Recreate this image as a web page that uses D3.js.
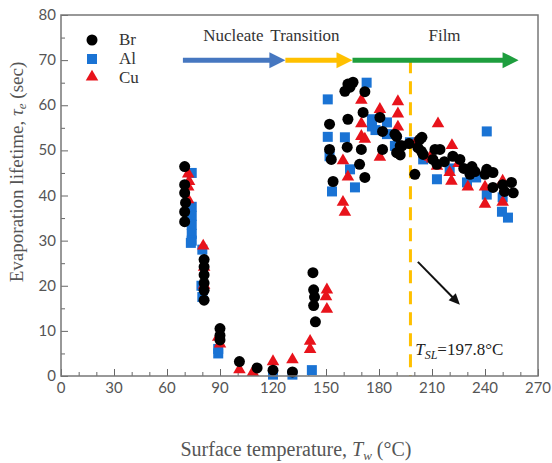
<!DOCTYPE html>
<html>
<head>
<meta charset="utf-8">
<script src="https://cdn.jsdelivr.net/npm/d3@7"></script>
<style>
  body { margin: 0; background: #fff; }
  svg text { font-family: "Liberation Serif", "Times New Roman", serif; }
  svg text.tick { font-family: Lato, "Open Sans", sans-serif; }
</style>
</head>
<body>
<svg id="Chart" width="552" height="463"></svg>
<script>
// [surface temperature (C), evaporation lifetime (s)]
var brass = [
  [70,46.4],[70,42.4],[70,40.6],[70.5,38.4],[70,36.4],[70,34.2],
  [81,25.8],[81,24.2],[81,22.4],[81,20.6],[81,19],[81,16.8],
  [90,10.5],[90,9],[90,8],[101,3.2],[111,1.8],[120,1.3],[131,0.9],
  [142.6,22.9],[143,19.1],[143.5,17.5],[143,15.6],[144,12],
  [160.7,63.1],[163.6,64],[165.3,65.1],[162.4,64.7],[172,63],[162.4,56.9],[171,58.4],
  [180.5,57.3],[182,54.2],[189,53.6],[192,51],[192,49],[182,50.2],[170,50.2],[162,50.7],
  [152,55.8],[152,50.2],[153,48],[169,46.9],[172,44],[154,43.1],
  [190,53.1],[190,49.5],[193,51],[204.3,52.9],[202,50.6],[205,49.1],[200.3,44.7],
  [211.7,50.2],[214.5,50.2],[212.8,46.9],[210.5,48],[221.8,48.7],[225.8,48],[232.6,46.4],
  [234.3,45.3],[241,45.8],[244.5,45.1],[240,44.7],[231.5,44.7],[244.5,41.8],[250,42.4],
  [255,42.9],[256,40.6],[251,40.9],[203,52.4],[204,49.8],[197,51.5],[217,47.5],[228,46]
];
var aluminum = [
  [74,45],[74,37.5],[74,35.5],[74,33.5],[74,31.5],[74,30],[73.5,29.5],
  [80,28],[80,17.5],[79.5,20],[89,6],[89,5],[120,0.3],[131,0.3],[142,1.3],
  [151,61.3],[173,65],[151,53],[160.7,52.9],[152,48.7],[163.6,45.8],[166.4,41.8],[153.4,40.9],
  [176,55.3],[184.5,53.6],[190,51],[176,56.9],[184.5,56.2],[189,51],[178,54.5],
  [241,54.2],[212.8,43.6],[241,40.2],[250,39.6],[249.6,36.4],[253,35.1],[229.8,42.9],
  [190,50.2],[197.5,51.8],[205,48],[220,46],[235,44]
];
var copper = [
  [72,44.7],[72,41.8],[72,39],[72.5,43],
  [80.5,28.7],[81,24],[81,20],[89,8.5],[90,7],
  [101,1.3],[108.6,0.7],[120,3.1],[131,3.5],
  [141,7.6],[141,5.8],[150.5,19],[150,17.5],[150.5,14.7],
  [170,61],[190.7,60.7],[180.5,59],[190.7,58],[170,55.8],[170,53],[159.6,47.6],[162.4,44],
  [159.6,38.4],[160.7,36.2],[180.5,48.4],[172,52.4],[190.7,55.1],
  [213.4,55.8],[200.3,51.3],[221.3,51],[210,48],[220,45],[221,43.1],[230.3,41.8],[240,41.8],
  [250,43.1],[240,38],[250,38.4],[209,48.4],[212.8,46.4],[225,47]
];
var xTicks = [0,30,60,90,120,150,180,210,240,270];
var yTicks = [0,10,20,30,40,50,60,70,80];
// regime arrows along the top: [from, to] in C
var regimes = [
  {name: "Nucleate", from: 69, to: 127, color: "#4677C0"},
  {name: "Transition", from: 127, to: 165, color: "#FFC000"},
  {name: "Film", from: 165, to: 259, color: "#1E9E3E"}
];
var tSL = 197.8;

var svg = d3.select("#Chart");
var margin = {left: 61, right: 14, top: 15, bottom: 87};
var width = 552 - margin.left - margin.right,
    height = 463 - margin.top - margin.bottom;

var x = d3.scaleLinear().domain([0, 270]).range([margin.left, margin.left + width]);
var y = d3.scaleLinear().domain([0, 80]).range([margin.top + height, margin.top]);

// ticks (inward) and labels
var axisG = svg.append("g");
axisG.append("g")
  .attr("transform", "translate(0," + y(0) + ")")
  .call(d3.axisBottom(x).tickValues(d3.range(0, 271, 10)).tickSize(-4).tickFormat(""))
  .call(g => g.select(".domain").remove())
  .call(g => g.selectAll("line").attr("stroke", "#666")
    .attr("y2", d => d % 30 == 0 ? -7 : -4));
axisG.append("g")
  .attr("transform", "translate(" + x(0) + ",0)")
  .call(d3.axisLeft(y).tickValues(d3.range(0, 81, 5)).tickSize(-4).tickFormat(""))
  .call(g => g.select(".domain").remove())
  .call(g => g.selectAll("line").attr("stroke", "#666")
    .attr("x2", d => d % 10 == 0 ? 7 : 4));

svg.append("g").selectAll("text")
  .data(xTicks).enter().append("text").attr("class", "tick")
  .attr("x", d => x(d)).attr("y", y(0) + 17)
  .attr("text-anchor", "middle").attr("font-size", 15).attr("fill", "#555")
  .text(d => d);
svg.append("g").selectAll("text")
  .data(yTicks).enter().append("text").attr("class", "tick")
  .attr("x", x(0) - 5).attr("y", d => y(d) + 5)
  .attr("text-anchor", "end").attr("font-size", 15).attr("fill", "#555")
  .text(d => d);

// Tsl dashed line
svg.append("line")
  .attr("x1", x(tSL)).attr("x2", x(tSL))
  .attr("y1", y(70)).attr("y2", y(0))
  .attr("stroke", "#FFC000").attr("stroke-width", 3)
  .attr("stroke-dasharray", "13,8");

// regime arrows
var arrows = svg.append("g");
regimes.forEach(function(r) {
  var x1 = x(r.from), x2 = x(r.to), yy = y(70);
  arrows.append("line")
    .attr("x1", x1).attr("x2", x2 - 12).attr("y1", yy).attr("y2", yy)
    .attr("stroke", r.color).attr("stroke-width", 5);
  arrows.append("path")
    .attr("d", "M" + (x2 - 16) + "," + (yy - 8) + "L" + x2 + "," + yy + "L" + (x2 - 16) + "," + (yy + 8) + "Z")
    .attr("fill", r.color);
});
var labelG = svg.append("g").attr("font-size", 17).attr("fill", "#333");
labelG.append("text").attr("x", x(80.5)).attr("y", y(74.3)).text("Nucleate");
labelG.append("text").attr("x", x(118.5)).attr("y", y(74.3)).text("Transition");
labelG.append("text").attr("x", x(208)).attr("y", y(74.3)).text("Film");

// markers
var pts = svg.append("g");
pts.selectAll(".al").data(aluminum).enter().append("rect")
  .attr("x", d => x(d[0]) - 5).attr("y", d => y(d[1]) - 5)
  .attr("width", 10).attr("height", 10).attr("fill", "#1A73D4");
var tri = d3.symbol().type(d3.symbolTriangle).size(68);
pts.selectAll(".cu").data(copper).enter().append("path")
  .attr("d", tri)
  .attr("transform", d => "translate(" + x(d[0]) + "," + (y(d[1]) - 0.5) + ")")
  .attr("fill", "#E8131B");
pts.selectAll(".br").data(brass).enter().append("circle")
  .attr("cx", d => x(d[0])).attr("cy", d => y(d[1]))
  .attr("r", 5.5).attr("fill", "#000");

// annotation arrow + label
var ax1 = x(202), ay1 = y(25.3), ax2 = x(225.8), ay2 = y(15.8);
var ang = Math.atan2(ay2 - ay1, ax2 - ax1);
svg.append("line")
  .attr("x1", ax1).attr("y1", ay1)
  .attr("x2", ax2 - 8 * Math.cos(ang)).attr("y2", ay2 - 8 * Math.sin(ang))
  .attr("stroke", "#111").attr("stroke-width", 2);
var hl = 11, hw = 5;
svg.append("path")
  .attr("d", "M" + ax2 + "," + ay2 +
    "L" + (ax2 - hl * Math.cos(ang) + hw * Math.sin(ang)) + "," + (ay2 - hl * Math.sin(ang) - hw * Math.cos(ang)) +
    "L" + (ax2 - hl * Math.cos(ang) - hw * Math.sin(ang)) + "," + (ay2 - hl * Math.sin(ang) + hw * Math.cos(ang)) + "Z")
  .attr("fill", "#111");
var tsl = svg.append("text").attr("x", x(200.5)).attr("y", y(4.7))
  .attr("font-size", 17).attr("fill", "#222");
tsl.append("tspan").attr("font-style", "italic").text("T");
tsl.append("tspan").attr("font-style", "italic").attr("font-size", 12).attr("dy", 4).text("SL");
tsl.append("tspan").attr("dy", -4).text("=197.8°C");

// legend
var legend = svg.append("g").attr("font-size", 17).attr("fill", "#333");
legend.append("circle").attr("cx", 92).attr("cy", 40).attr("r", 5.5).attr("fill", "#000");
legend.append("rect").attr("x", 87).attr("y", 54).attr("width", 10).attr("height", 10).attr("fill", "#1A73D4");
legend.append("path").attr("d", tri).attr("transform", "translate(92,77)").attr("fill", "#E8131B");
legend.append("text").attr("x", 119).attr("y", 45).text("Br");
legend.append("text").attr("x", 119).attr("y", 64).text("Al");
legend.append("text").attr("x", 119).attr("y", 83).text("Cu");

// frame
svg.append("rect")
  .attr("x", margin.left).attr("y", margin.top)
  .attr("width", width).attr("height", height)
  .attr("fill", "none").attr("stroke", "#777").attr("stroke-width", 1.5);

// axis titles
var yl = svg.append("text")
  .attr("transform", "translate(23," + 172 + ") rotate(-90)")
  .attr("text-anchor", "middle").attr("font-size", 19).attr("fill", "#555");
yl.append("tspan").text("Evaporation lifetime, ");
yl.append("tspan").attr("font-style", "italic").text("τ");
yl.append("tspan").attr("font-style", "italic").attr("font-size", 13).attr("dy", 3).text("e");
yl.append("tspan").attr("dy", -3).text(" (sec)");

var xl = svg.append("text")
  .attr("x", 296).attr("y", 456)
  .attr("text-anchor", "middle").attr("font-size", 20).attr("fill", "#555");
xl.append("tspan").text("Surface temperature, ");
xl.append("tspan").attr("font-style", "italic").text("T");
xl.append("tspan").attr("font-style", "italic").attr("font-size", 13).attr("dy", 4).text("w");
xl.append("tspan").attr("dy", -4).text(" (°C)");
</script>
</body>
</html>
